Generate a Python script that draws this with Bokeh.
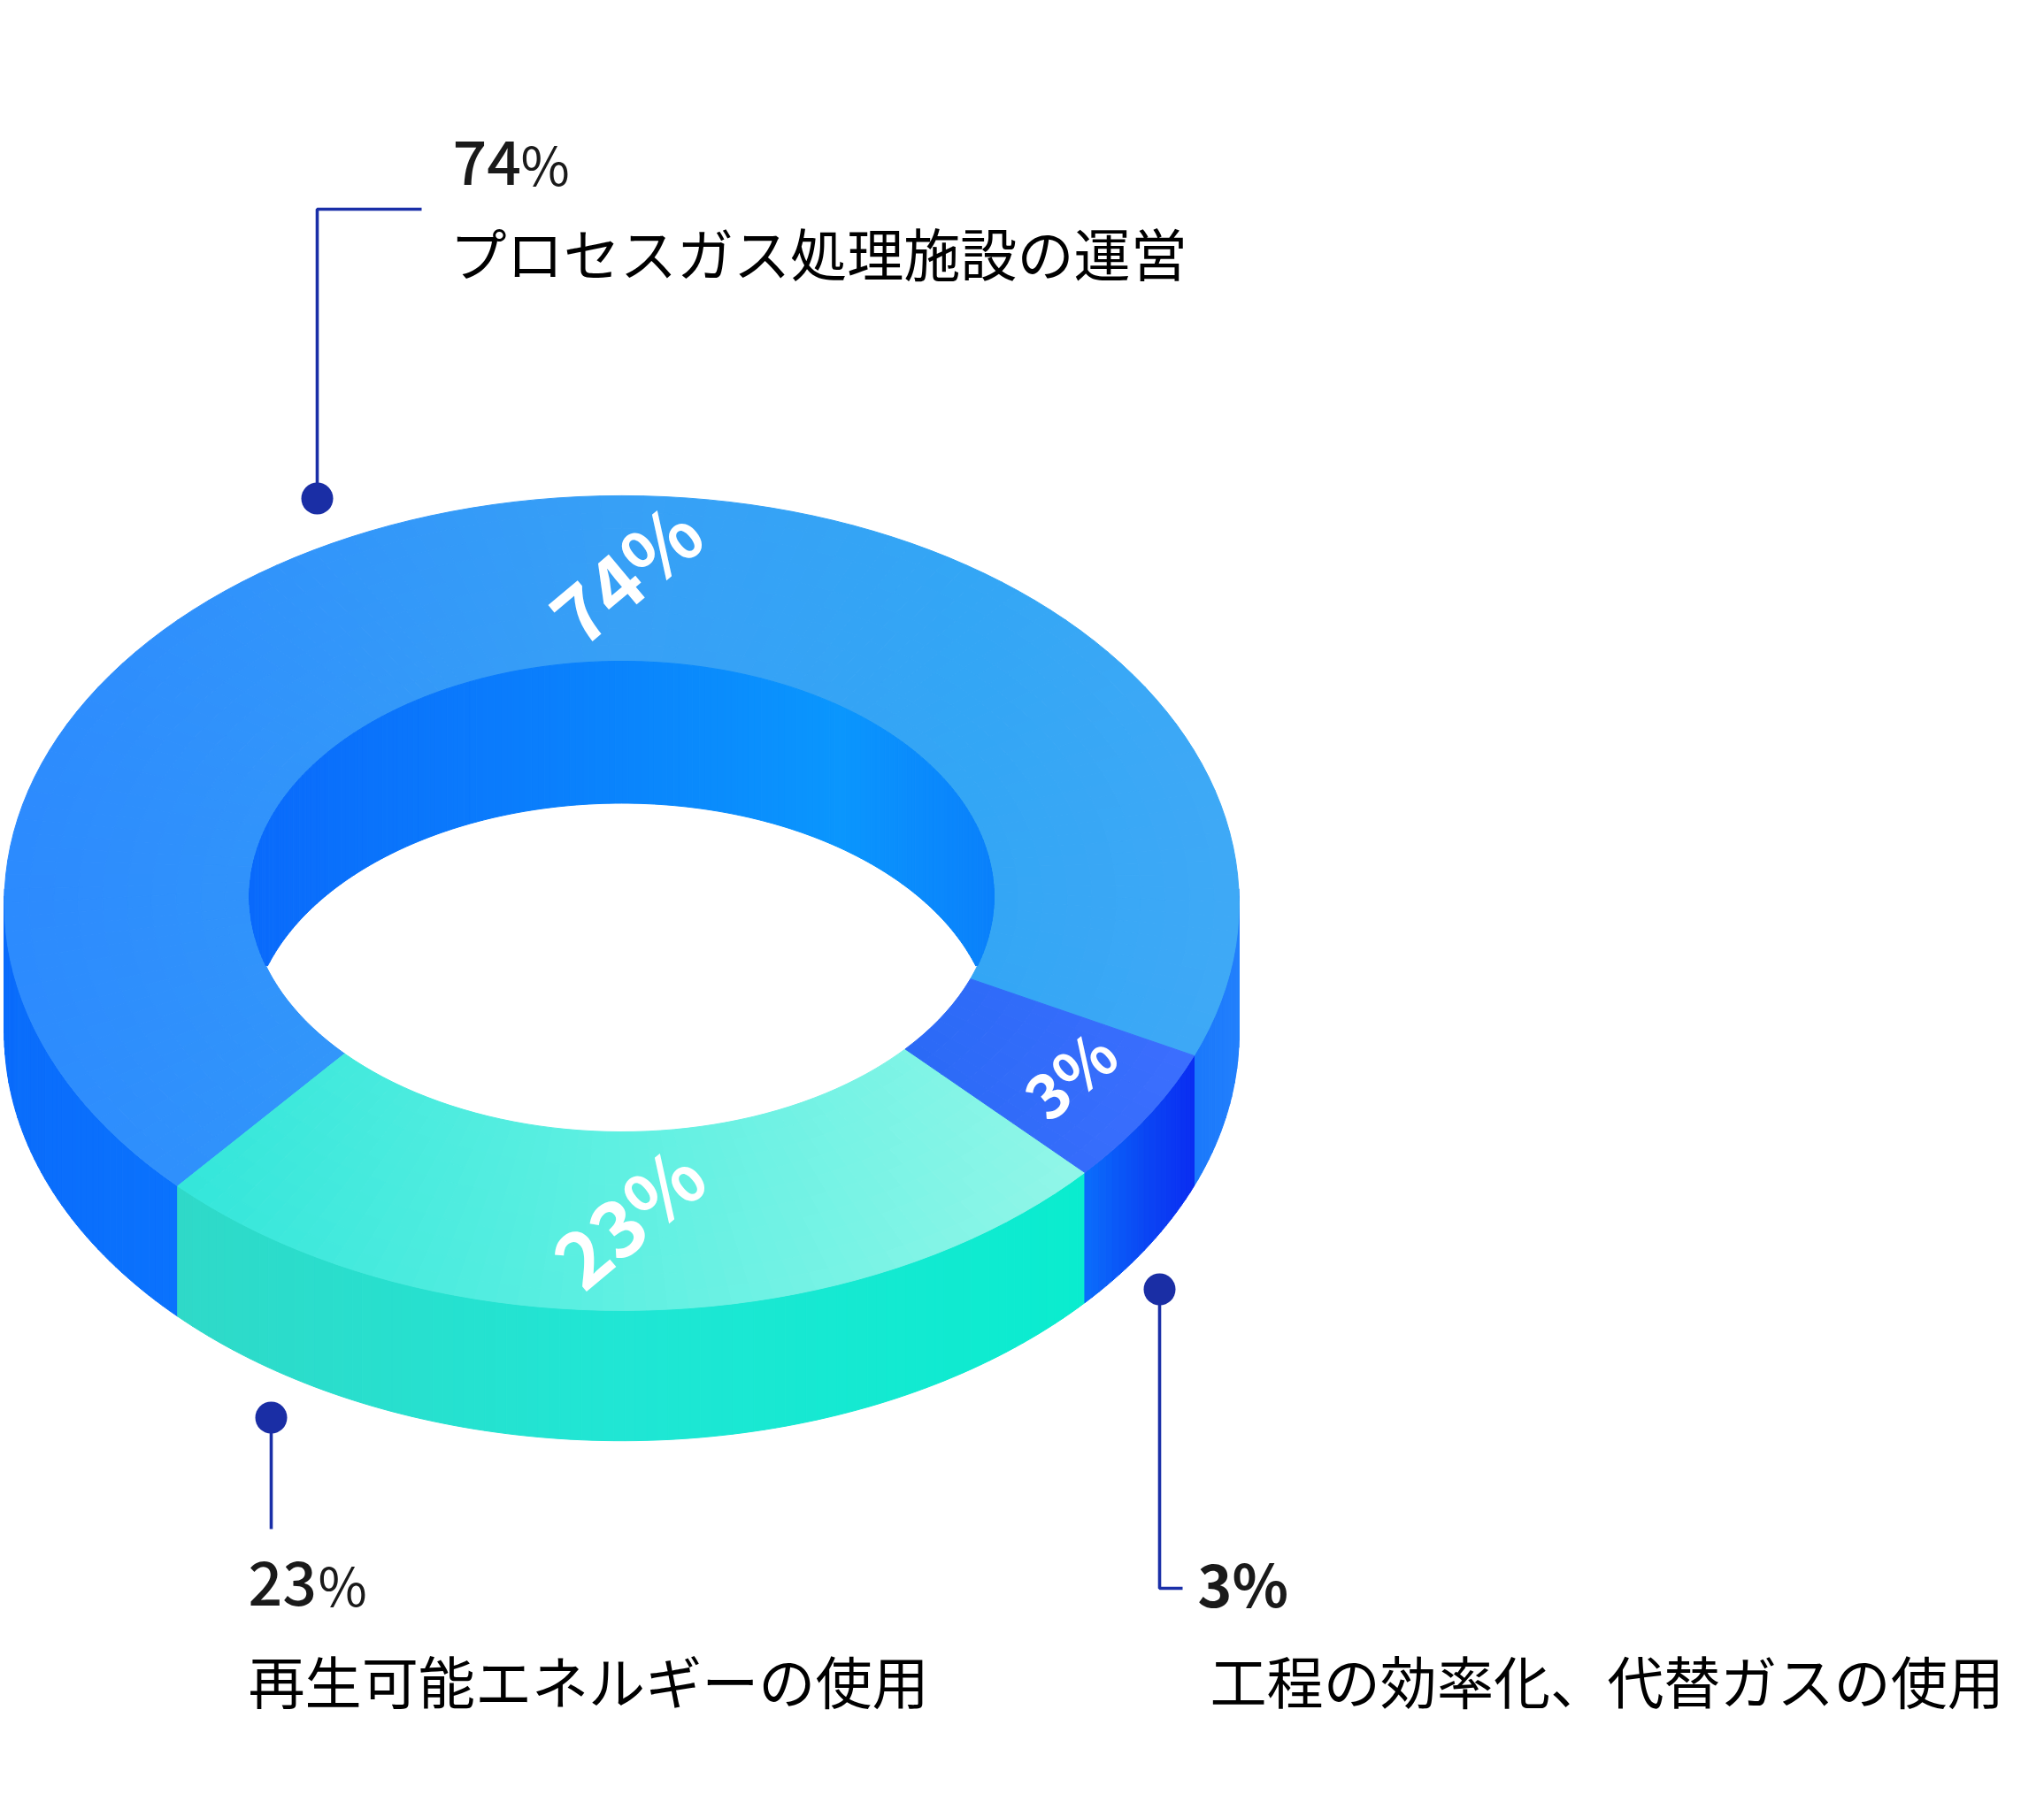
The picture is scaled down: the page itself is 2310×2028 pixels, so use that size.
import numpy as np
from bokeh.plotting import figure
from bokeh.models import Range1d
from bokeh.core.properties import value
from bokeh.embed import file_html
from bokeh.resources import INLINE

# ---- data
slice_names = ["プロセスガス処理施設の運営", "再生可能エネルギーの使用", "工程の効率化、代替ガスの使用"]
slice_values = [74, 23, 3]
# The drawn sweep of each slice is not proportional to its value in the source picture.
outer_sweep_deg = [246.0, 94.6, 19.4]
inner_sweep_deg = [242.4, 97.7, 19.9]
outer_start_deg = 68.0
inner_start_deg = 69.5

# ---- layout (reference pixels)
CX, RX, CY, RY, DEPTH = 702.1, 697.7, 1020.4, 460.5, 147.3
ICX, IRX, ICY, IRY, HOLE_SHIFT = 702.1, 420.7, 1013.0, 266.0, 160.5
FONT_JP = "Noto Sans CJK JP"
FONT_NUM = "Noto Sans CJK JP Medium"
LINE = "#1a2fa8"
DOT = "#1a2ea5"

# ---- horizontal colour stops for every surface: (x, colour)
TOP_STOPS = [
    [(0, "#2c8afe"), (700, "#37a0f6"), (1100, "#33a6f5"), (1400, "#3fa9f6")],
    [(200, "#33e6da"), (700, "#5ff0e2"), (1230, "#92f6e8")],
    [(1020, "#2a6af6"), (1350, "#3c6efe")],
]
SIDE_STOPS = [
    [(0, "#0a6cfb"), (200, "#0a72fd"), (1350, "#1a78fb"), (1400, "#2280fc")],
    [(200, "#2fd9c8"), (700, "#20e6d4"), (1225, "#0aeccf")],
    [(1225, "#0a6efc"), (1290, "#0a48f4"), (1350, "#0a2cf2")],
]
WALL_STOPS = [(280, "#0a6afb"), (700, "#0a84fc"), (950, "#0a96fd"), (1125, "#0a80fb")]


def rgb(h):
    return [int(h[i:i + 2], 16) for i in (1, 3, 5)]


def shade(stops, x):
    xs = [s[0] for s in stops]
    cs = np.array([rgb(s[1]) for s in stops], float)
    c = [np.interp(x, xs, cs[:, i]) for i in range(3)]
    return "#%02x%02x%02x" % tuple(int(round(v)) for v in c)


def oval(cx, rx, cy, ry, deg):
    t = np.radians(deg)
    return cx + rx * np.sin(t), cy + ry * np.cos(t)


px, py, pc = [], [], []


def add(xs, ys, c):
    px.append(list(xs))
    py.append(list(ys))
    pc.append(c)


# side wall of the ring: lower half only
bounds = np.cumsum([outer_start_deg] + outer_sweep_deg)
ibounds = np.cumsum([inner_start_deg] + inner_sweep_deg)
for k in range(3):
    a, b = bounds[k], bounds[k + 1]
    n = max(2, int((b - a) / 1.0))
    edges = np.linspace(a, b, n + 1)
    for e0, e1 in zip(edges[:-1], edges[1:]):
        if np.cos(np.radians(e0)) < -0.02 and np.cos(np.radians(e1)) < -0.02:
            continue
        x0, y0 = oval(CX, RX, CY, RY, e0)
        x1, y1 = oval(CX, RX, CY, RY, e1)
        add([x0, x1, x1, x0], [y0, y1, y1 + DEPTH, y0 + DEPTH], shade(SIDE_STOPS[k], (x0 + x1) / 2))

# top surface
RINGS = 10
for k in range(3):
    a, b = bounds[k], bounds[k + 1]
    ia, ib = ibounds[k], ibounds[k + 1]
    n = max(4, int((b - a) / 2.0))
    fo = np.linspace(a, b, n + 1)
    fi = np.linspace(ia, ib, n + 1)
    for j in range(n):
        ox0, oy0 = oval(CX, RX, CY, RY, fo[j]); ox1, oy1 = oval(CX, RX, CY, RY, fo[j + 1])
        ix0, iy0 = oval(ICX, IRX, ICY, IRY, fi[j]); ix1, iy1 = oval(ICX, IRX, ICY, IRY, fi[j + 1])
        for r in range(RINGS):
            u0, u1 = r / RINGS, (r + 1) / RINGS
            xs = [ix0 + (ox0 - ix0) * u0, ix1 + (ox1 - ix1) * u0, ix1 + (ox1 - ix1) * u1, ix0 + (ox0 - ix0) * u1]
            ys = [iy0 + (oy0 - iy0) * u0, iy1 + (oy1 - iy1) * u0, iy1 + (oy1 - iy1) * u1, iy0 + (oy0 - iy0) * u1]
            add(xs, ys, shade(TOP_STOPS[k], sum(xs) / 4))

# inner wall seen through the hole
wx = ICX + IRX * np.sin(np.radians(np.linspace(-90, 90, 181)))
for x0, x1 in zip(wx[:-1], wx[1:]):
    def arcs(x):
        s = np.sqrt(max(0.0, 1 - ((x - ICX) / IRX) ** 2))
        top, low = ICY - IRY * s, ICY + IRY * s
        return top, min(low, top + HOLE_SHIFT)
    t0, b0 = arcs(x0)
    t1, b1 = arcs(x1)
    add([x0, x1, x1, x0], [t0, t1, b1, b0], shade(WALL_STOPS, (x0 + x1) / 2))

p = figure(width=2294, height=2012, x_range=Range1d(0, 2294), y_range=Range1d(2012, 0),
           output_backend="svg", toolbar_location=None, x_axis_location=None, y_axis_location=None,
           min_border=0, outline_line_color=None, background_fill_color="white", border_fill_color="white")
p.grid.visible = False

p.patches(px, py, fill_color=pc, line_color=pc, line_width=1)

# white labels lying on the ring
for (x, y, size), v in zip([(704, 645, "88px"), (707, 1372, "88px"), (1207, 1212, "70px")], slice_values):
    p.text([x], [y], text=[f"{v}%"], text_color="white", text_font=value("Noto Sans CJK JP"), text_font_style="bold",
           text_font_size=size, text_align="center", text_baseline="middle", angle=40, angle_units="deg")

# leader lines
p.line([358, 358, 476], [563, 236, 236], line_color=LINE, line_width=3.6)
p.line([306, 306], [1602, 1728], line_color=LINE, line_width=3.6)
p.line([1310, 1310, 1336], [1457, 1795, 1795], line_color=LINE, line_width=3.6)
p.scatter([358, 306, 1310], [563, 1602, 1457], size=36, marker="circle", fill_color=DOT, line_color=None)

# callout numbers
p.text([511, 280], [183, 1789], text=[str(slice_values[0]), str(slice_values[1])], text_color="#1a1a1a",
       text_font=value(FONT_NUM), text_font_size="68px", text_baseline="alphabetic")
p.text([588, 359], [183, 1789], text=["%", "%"], text_color="#1a1a1a",
       text_font=value(FONT_JP), text_font_size="60px", text_baseline="alphabetic")
p.text([1353], [1787], text=[f"{slice_values[2]}%"], text_color="#1a1a1a",
       text_font=value("Noto Sans CJK JP"), text_font_style="bold", text_font_size="66px", text_baseline="alphabetic")

# callout names
p.text([508, 280, 1367], [283, 1897, 1897], text=slice_names, text_color="#000000",
       text_font=value(FONT_JP), text_font_size="64.1px", text_baseline="alphabetic")

open("out.html", "w").write(file_html(p, INLINE))
